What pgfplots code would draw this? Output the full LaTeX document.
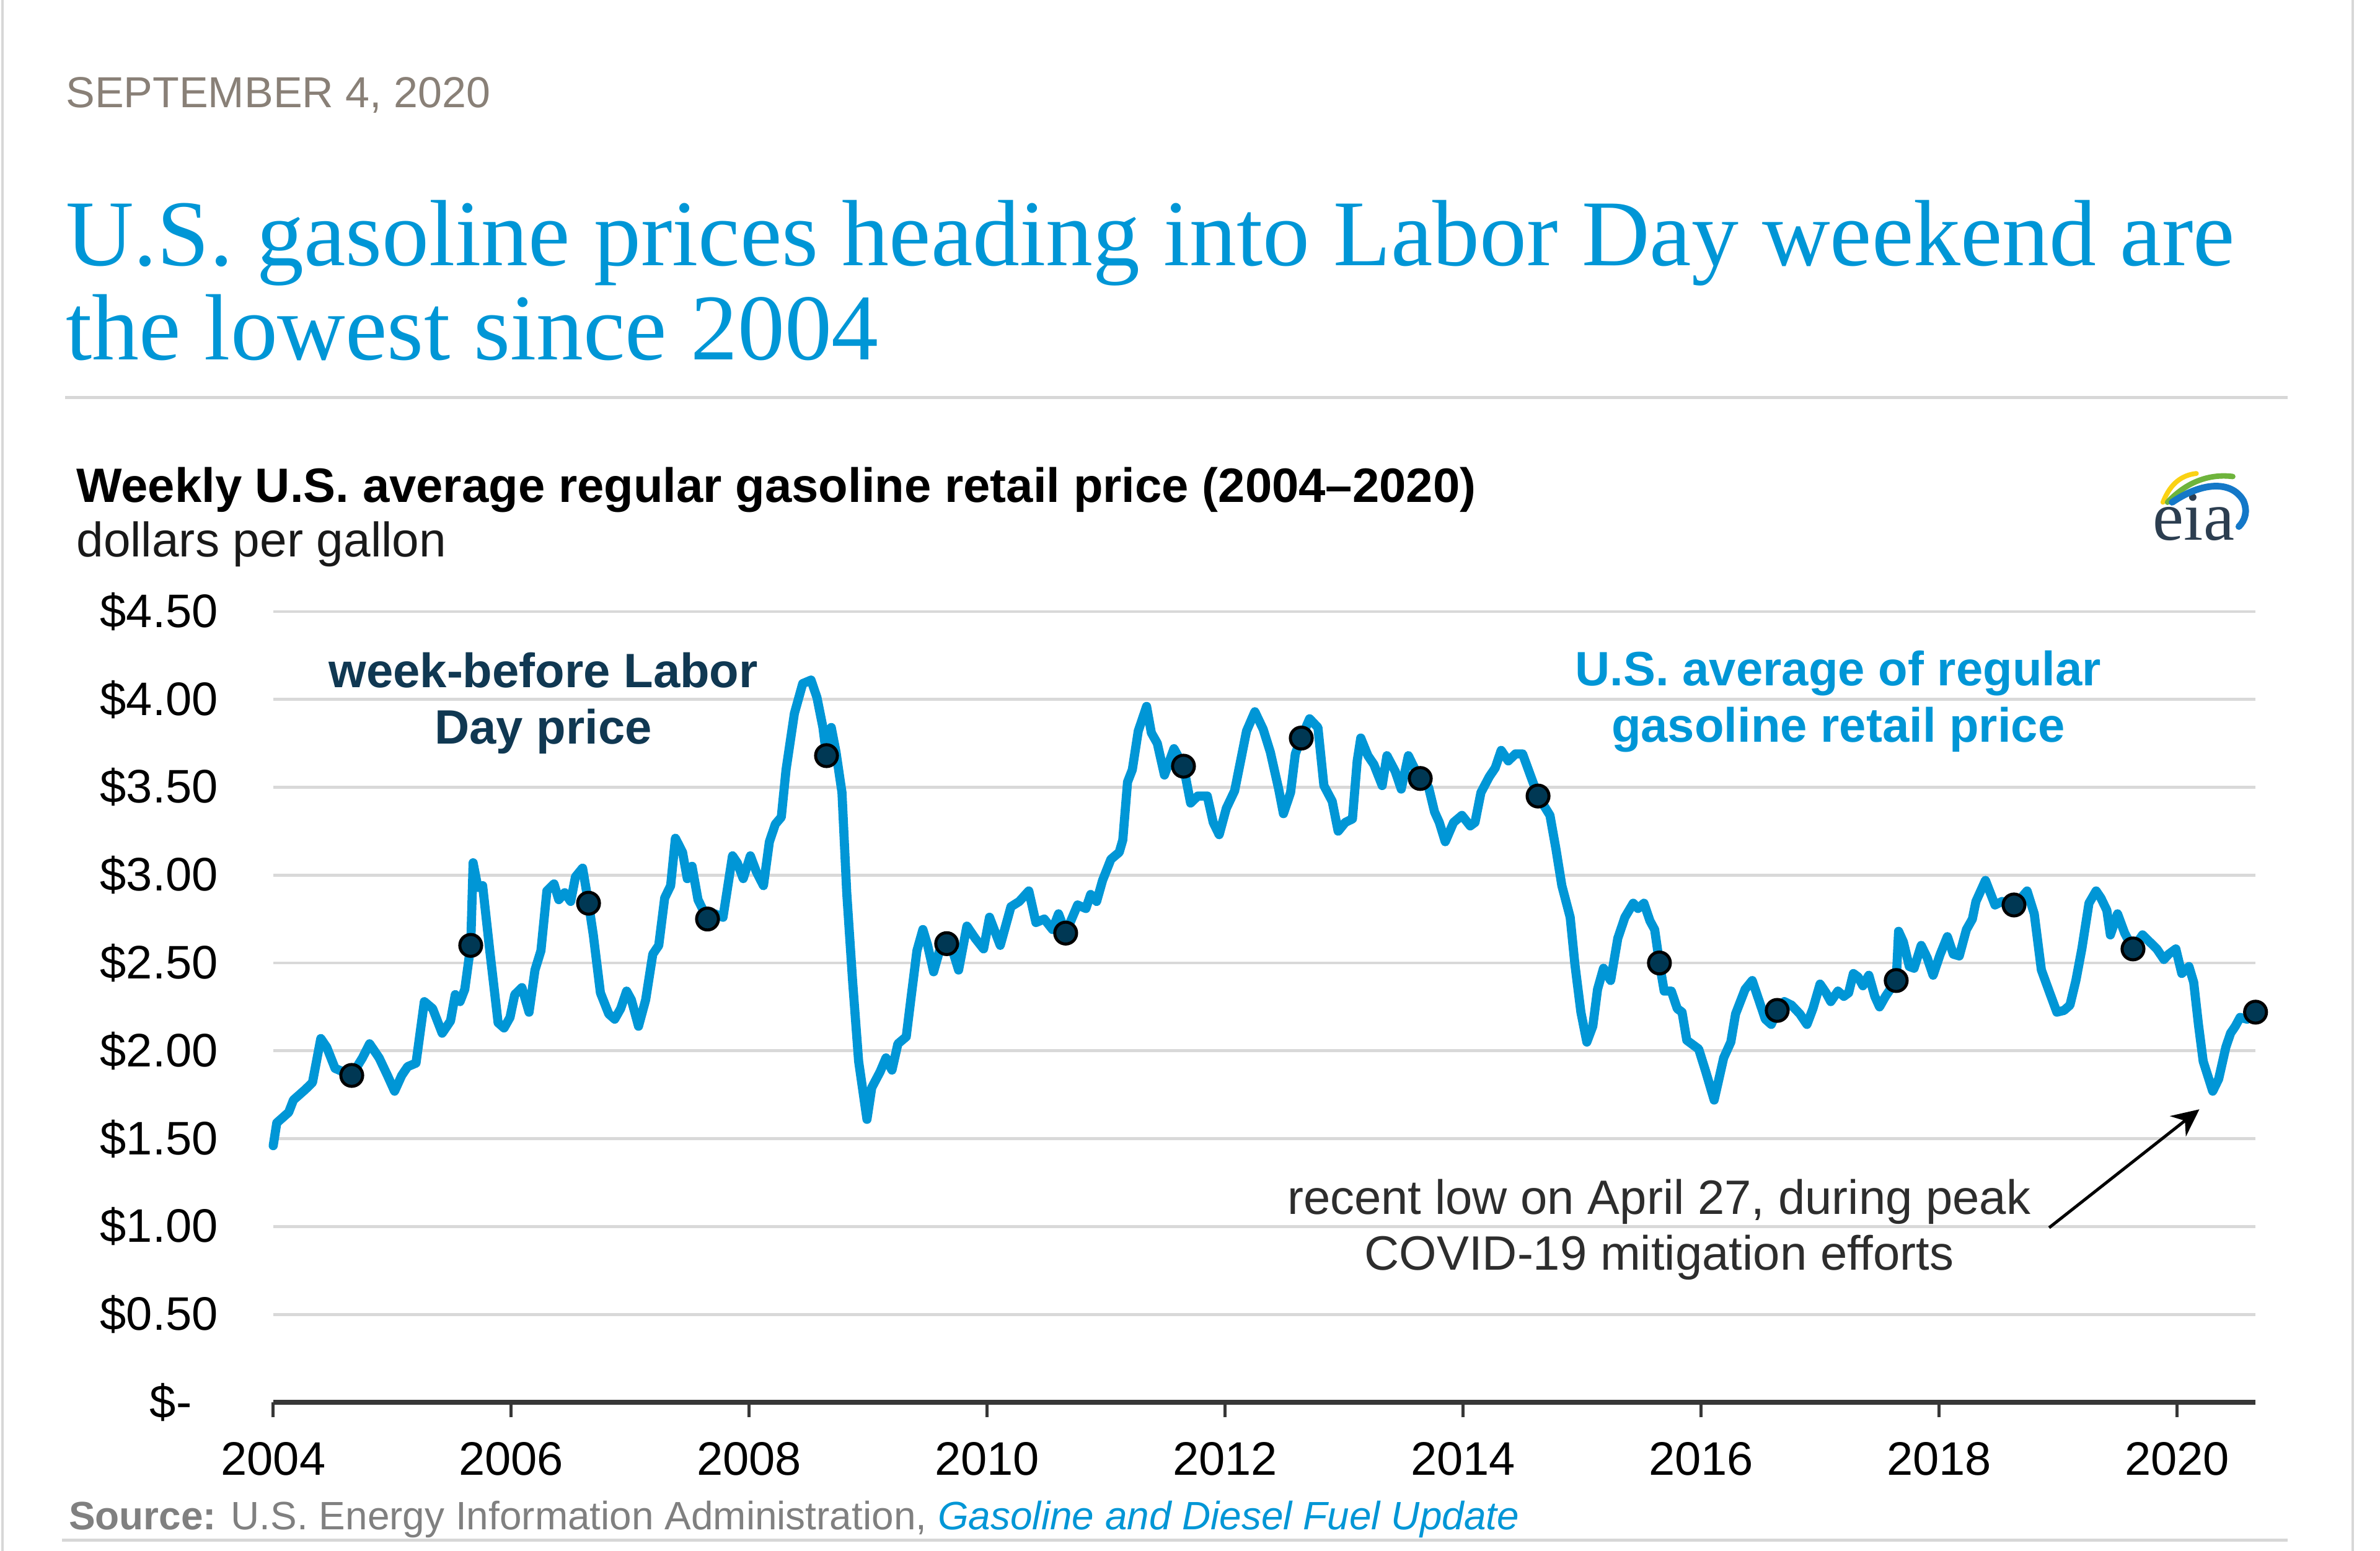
\documentclass[border=0pt]{standalone}
\usepackage{fontspec}
\setmainfont{Liberation Sans}
\newfontfamily\seriffont{Liberation Serif}
\usepackage{pgfplots}
\pgfplotsset{compat=1.18}
\usetikzlibrary{arrows.meta}
\definecolor{eiablue}{RGB}{0,150,214}
\definecolor{navydot}{RGB}{0,56,84}
\definecolor{navytext}{RGB}{16,56,82}
\definecolor{dategray}{RGB}{137,128,119}
\definecolor{rulegray}{RGB}{215,215,215}
\definecolor{gridgray}{RGB}{217,217,217}
\definecolor{axisdark}{RGB}{55,55,55}
\definecolor{srcgray}{RGB}{128,128,128}
\definecolor{notegray}{RGB}{45,45,45}
\definecolor{eiaslate}{RGB}{44,62,80}
\definecolor{eiayellow}{RGB}{250,210,20}
\definecolor{eiagreen}{RGB}{110,180,60}
\definecolor{eialogoblue}{RGB}{20,120,200}

\pgfplotstableread{
x y
2004.00 1.46
2004.03 1.59
2004.13 1.65
2004.17 1.72
2004.27 1.78
2004.33 1.82
2004.40 2.07
2004.45 2.02
2004.52 1.90
2004.59 1.88
2004.66 1.86
2004.75 1.96
2004.81 2.04
2004.89 1.96
2004.96 1.86
2005.02 1.77
2005.08 1.86
2005.13 1.91
2005.20 1.93
2005.27 2.28
2005.34 2.24
2005.42 2.10
2005.49 2.17
2005.53 2.32
2005.57 2.28
2005.61 2.35
2005.66 2.60
2005.68 3.07
2005.72 2.93
2005.76 2.94
2005.82 2.57
2005.89 2.16
2005.94 2.13
2005.99 2.19
2006.03 2.32
2006.09 2.36
2006.15 2.22
2006.20 2.46
2006.25 2.57
2006.30 2.91
2006.36 2.95
2006.40 2.86
2006.45 2.90
2006.50 2.85
2006.54 2.99
2006.60 3.04
2006.65 2.84
2006.69 2.66
2006.75 2.33
2006.82 2.21
2006.87 2.18
2006.92 2.24
2006.97 2.34
2007.01 2.29
2007.07 2.14
2007.13 2.29
2007.19 2.55
2007.24 2.60
2007.29 2.87
2007.34 2.94
2007.38 3.21
2007.44 3.13
2007.48 2.98
2007.52 3.05
2007.57 2.86
2007.65 2.75
2007.71 2.78
2007.78 2.76
2007.86 3.11
2007.90 3.07
2007.95 2.98
2008.01 3.11
2008.06 3.02
2008.12 2.94
2008.17 3.19
2008.22 3.29
2008.27 3.33
2008.31 3.60
2008.38 3.92
2008.45 4.09
2008.52 4.11
2008.57 4.01
2008.62 3.84
2008.65 3.68
2008.69 3.84
2008.73 3.70
2008.78 3.47
2008.82 2.90
2008.87 2.39
2008.92 1.94
2008.99 1.61
2009.03 1.79
2009.10 1.88
2009.15 1.96
2009.20 1.89
2009.25 2.04
2009.32 2.08
2009.36 2.30
2009.41 2.57
2009.46 2.69
2009.50 2.60
2009.55 2.45
2009.60 2.57
2009.66 2.61
2009.71 2.57
2009.76 2.46
2009.83 2.71
2009.90 2.64
2009.97 2.58
2010.02 2.76
2010.11 2.60
2010.20 2.82
2010.27 2.85
2010.35 2.91
2010.41 2.73
2010.48 2.75
2010.55 2.69
2010.60 2.78
2010.66 2.67
2010.76 2.83
2010.83 2.81
2010.87 2.89
2010.92 2.85
2010.97 2.97
2011.04 3.09
2011.11 3.13
2011.14 3.20
2011.18 3.53
2011.22 3.60
2011.27 3.82
2011.34 3.96
2011.38 3.81
2011.43 3.75
2011.49 3.57
2011.57 3.72
2011.65 3.62
2011.71 3.41
2011.77 3.45
2011.85 3.45
2011.90 3.30
2011.95 3.23
2012.01 3.38
2012.08 3.48
2012.13 3.65
2012.18 3.82
2012.25 3.93
2012.32 3.83
2012.38 3.70
2012.45 3.49
2012.49 3.35
2012.55 3.47
2012.59 3.69
2012.64 3.78
2012.71 3.89
2012.78 3.84
2012.83 3.51
2012.90 3.42
2012.95 3.25
2013.01 3.30
2013.07 3.32
2013.11 3.65
2013.14 3.78
2013.20 3.68
2013.25 3.63
2013.32 3.51
2013.36 3.68
2013.43 3.59
2013.48 3.49
2013.54 3.68
2013.59 3.61
2013.64 3.55
2013.71 3.50
2013.76 3.36
2013.80 3.30
2013.85 3.19
2013.92 3.30
2013.99 3.34
2014.06 3.28
2014.10 3.30
2014.15 3.47
2014.22 3.56
2014.27 3.61
2014.32 3.71
2014.38 3.65
2014.44 3.69
2014.50 3.69
2014.57 3.56
2014.63 3.45
2014.73 3.34
2014.78 3.15
2014.83 2.94
2014.90 2.76
2014.94 2.49
2014.99 2.22
2015.04 2.05
2015.09 2.14
2015.13 2.35
2015.18 2.47
2015.24 2.40
2015.30 2.64
2015.36 2.76
2015.43 2.84
2015.47 2.81
2015.52 2.84
2015.57 2.74
2015.61 2.69
2015.65 2.50
2015.69 2.34
2015.75 2.34
2015.80 2.24
2015.84 2.22
2015.88 2.06
2015.94 2.03
2015.98 2.01
2016.04 1.88
2016.11 1.72
2016.19 1.96
2016.25 2.05
2016.29 2.21
2016.33 2.28
2016.37 2.35
2016.43 2.40
2016.48 2.30
2016.54 2.18
2016.59 2.15
2016.64 2.23
2016.70 2.28
2016.76 2.26
2016.83 2.21
2016.89 2.15
2016.94 2.24
2017.00 2.38
2017.05 2.33
2017.09 2.28
2017.15 2.34
2017.20 2.31
2017.24 2.33
2017.28 2.44
2017.32 2.42
2017.36 2.37
2017.41 2.43
2017.46 2.31
2017.50 2.25
2017.55 2.31
2017.64 2.40
2017.66 2.68
2017.70 2.62
2017.75 2.48
2017.79 2.47
2017.85 2.60
2017.90 2.53
2017.95 2.43
2018.01 2.55
2018.07 2.65
2018.12 2.55
2018.17 2.54
2018.23 2.69
2018.28 2.75
2018.31 2.85
2018.35 2.91
2018.39 2.97
2018.43 2.90
2018.47 2.83
2018.53 2.85
2018.63 2.83
2018.69 2.87
2018.74 2.91
2018.80 2.78
2018.86 2.46
2018.93 2.33
2018.99 2.22
2019.05 2.23
2019.10 2.26
2019.15 2.40
2019.20 2.58
2019.26 2.84
2019.32 2.91
2019.36 2.87
2019.41 2.80
2019.44 2.66
2019.50 2.78
2019.56 2.67
2019.63 2.58
2019.71 2.66
2019.77 2.62
2019.83 2.58
2019.89 2.52
2019.93 2.55
2019.99 2.58
2020.04 2.44
2020.10 2.48
2020.14 2.39
2020.18 2.15
2020.22 1.94
2020.30 1.77
2020.35 1.84
2020.41 2.02
2020.45 2.10
2020.49 2.14
2020.53 2.19
2020.59 2.18
2020.66 2.22
}\weekly

\pgfplotstableread{
x y
2004.66 1.86
2005.66 2.60
2006.65 2.84
2007.65 2.75
2008.65 3.68
2009.66 2.61
2010.66 2.67
2011.65 3.62
2012.64 3.78
2013.64 3.55
2014.63 3.45
2015.65 2.50
2016.64 2.23
2017.64 2.40
2018.63 2.83
2019.63 2.58
2020.66 2.22
}\laborday

\begin{document}
\begin{tikzpicture}[x=0.5pt,y=-0.5pt]
\useasboundingbox (0,0) rectangle (1568,1022);
% frame
\draw[rulegray, line width=0.8pt] (1.5,0) -- (1.5,1022);
\draw[rulegray, line width=0.8pt] (1550,0) -- (1550,1022);
% date and title
\node[anchor=base west, inner sep=0pt, font=\fontsize{14.3}{17}\selectfont, text=dategray] at (43,71) {SEPTEMBER 4, 2020};
\node[anchor=base west, inner sep=0pt, font=\seriffont\fontsize{31}{31}\selectfont, text=eiablue] at (43,175) {U.S. gasoline prices heading into Labor Day weekend are};
\node[anchor=base west, inner sep=0pt, font=\seriffont\fontsize{31}{31}\selectfont, text=eiablue] at (43,237) {the lowest since 2004};
\draw[rulegray, line width=1pt] (43,262) -- (1507,262);
% chart title
\node[anchor=base west, inner sep=0pt, font=\bfseries\fontsize{15.9}{19}\selectfont] at (50,331) {Weekly U.S. average regular gasoline retail price (2004--2020)};
\node[anchor=base west, inner sep=0pt, font=\fontsize{16}{19}\selectfont, text=black!90] at (50,367) {dollars per gallon};
% eia logo
\node[anchor=base west, inner sep=0pt, font=\seriffont\fontsize{23}{23}\selectfont, text=eiaslate] at (1418,356) {eia};
\draw[eiayellow, line width=1.6pt, line cap=round] (1425,331) .. controls (1430,318) and (1438,313) .. (1447,312);
\draw[eiagreen, line width=1.8pt, line cap=round] (1428,331) .. controls (1440,318) and (1455,312) .. (1471,314);
\draw[eialogoblue, line width=2.2pt, line cap=round] (1431,331) .. controls (1450,318) and (1470,316) .. (1478,330) .. controls (1481,337) and (1479,343) .. (1475,347);

\coordinate (axSW) at (180,924);
\begin{axis}[
  at={(axSW)}, anchor=south west,
  scale only axis, width=653pt, height=260.5pt,
  xmin=2004, xmax=2020.66, ymin=0, ymax=4.5,
  axis x line*=bottom, axis y line*=left,
  y axis line style={draw=none},
  x axis line style={draw=axisdark, line width=1.5pt},
  xtick={2004,2006,2008,2010,2012,2014,2016,2018,2020},
  xticklabels={2004,2006,2008,2010,2012,2014,2016,2018,2020},
  ytick={0,0.5,1,1.5,2,2.5,3,3.5,4,4.5},
  yticklabels={\$-\hphantom{0},\$0.50,\$1.00,\$1.50,\$2.00,\$2.50,\$3.00,\$3.50,\$4.00,\$4.50},
  ymajorgrids, major grid style={draw=gridgray, line width=1pt},
  tick align=outside, major tick length=5pt,
  xtick style={draw=axisdark, line width=1pt},
  ytick style={draw=none},
  tick label style={font=\fontsize{15.5}{18}\selectfont, text=black},
  yticklabel style={anchor=east, inner sep=0pt, xshift=-13pt},
  xticklabel style={anchor=north, inner sep=0pt, yshift=-8pt},
  clip=false,
]
\addplot[color=eiablue, line width=3pt, line join=round, line cap=round] table[x=x,y=y] {\weekly};
\addplot[only marks, mark=*, mark size=3.6pt, mark options={fill=navydot, draw=black, line width=1pt}] table[x=x,y=y] {\laborday};
\end{axis}

% annotations
\node[anchor=base, inner sep=0pt, font=\bfseries\fontsize{15.9}{18}\selectfont, text=navytext] at (358,453) {week-before Labor};
\node[anchor=base, inner sep=0pt, font=\bfseries\fontsize{15.9}{18}\selectfont, text=navytext] at (358,490) {Day price};
\node[anchor=base, inner sep=0pt, font=\bfseries\fontsize{15.9}{18}\selectfont, text=eiablue] at (1211,452) {U.S. average of regular};
\node[anchor=base, inner sep=0pt, font=\bfseries\fontsize{15.9}{18}\selectfont, text=eiablue] at (1211,489) {gasoline retail price};
\node[anchor=base, inner sep=0pt, font=\fontsize{15.9}{18}\selectfont, text=notegray] at (1093,800) {recent low on April 27, during peak};
\node[anchor=base, inner sep=0pt, font=\fontsize{15.9}{18}\selectfont, text=notegray] at (1093,837) {COVID-19 mitigation efforts};
\draw[-{Stealth[length=9pt,width=8.5pt]}, line width=1pt, black] (1350,809) -- (1449,731);

% source
\node[anchor=base west, inner sep=0pt, font=\fontsize{13.05}{15}\selectfont, text=srcgray] at (45,1008) {\textbf{Source:} U.S. Energy Information Administration, \textcolor{eiablue}{\itshape Gasoline and Diesel Fuel Update}};
\draw[rulegray, line width=1pt] (41,1015) -- (1507,1015);
\end{tikzpicture}
\end{document}
